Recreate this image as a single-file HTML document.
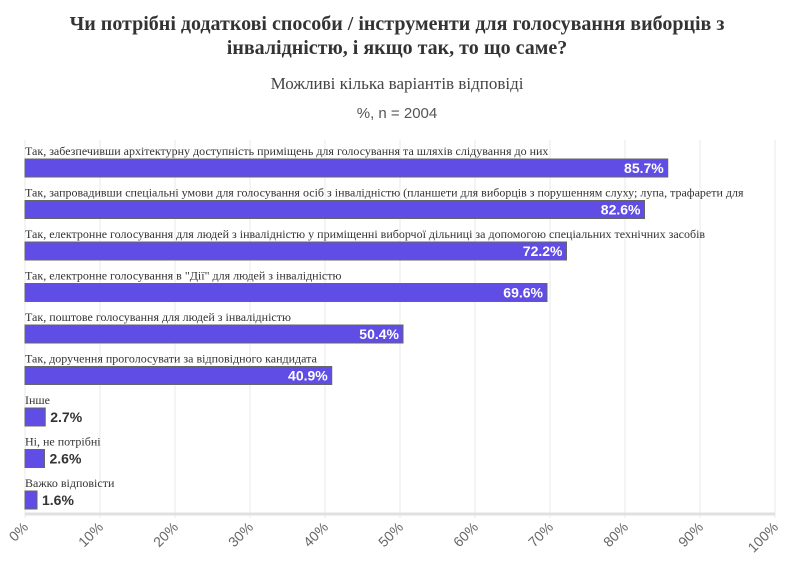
<!DOCTYPE html>
<html><head><meta charset="utf-8"><style>
body{margin:0;background:#fff;width:795px;height:575px;overflow:hidden}
svg text{font-family:"Liberation Serif",serif}
</style></head><body>
<svg width="795" height="575">
<text x="397" y="30" text-anchor="middle" font-size="20" font-weight="bold" fill="#333">Чи потрібні додаткові способи / інструменти для голосування виборців з</text>
<text x="397" y="54" text-anchor="middle" font-size="20" font-weight="bold" fill="#333">інвалідністю, і якщо так, то що саме?</text>
<text x="397" y="89" text-anchor="middle" font-size="17" fill="#444">Можливі кілька варіантів відповіді</text>
<text x="397" y="118" text-anchor="middle" font-size="15" fill="#555" style="font-family:'Liberation Sans',sans-serif">%, n = 2004</text>
<g id="grid"></g><g id="bars"></g><g id="ticks"></g>
</svg>
<script>
const categories=["Так, забезпечивши архітектурну доступність приміщень для голосування та шляхів слідування до них","Так, запровадивши спеціальні умови для голосування осіб з інвалідністю (планшети для виборців з порушенням слуху; лупа, трафарети для","Так, електронне голосування для людей з інвалідністю у приміщенні виборчої дільниці за допомогою спеціальних технічних засобів","Так, електронне голосування в \"Дії\" для людей з інвалідністю","Так, поштове голосування для людей з інвалідністю","Так, доручення проголосувати за відповідного кандидата","Інше","Ні, не потрібні","Важко відповісти"];
const values=[85.7,82.6,72.2,69.6,50.4,40.9,2.7,2.6,1.6];
const tickValues=[0,10,20,30,40,50,60,70,80,90,100];
const NS="http://www.w3.org/2000/svg";
const x=v=>25+v*7.5, y=i=>159+i*41.5;
const g=document.getElementById('grid'),b=document.getElementById('bars'),t=document.getElementById('ticks');
function mk(p,tag,a){const e=document.createElementNS(NS,tag);for(const k in a)e.setAttribute(k,a[k]);p.appendChild(e);return e;}
tickValues.forEach(v=>{
 const l=mk(g,'line',{x1:x(v),x2:x(v),y1:140,y2:518,stroke:'#e8e8e8','stroke-width':1});
 
 
 const tx=mk(t,'text',{x:x(v)+4,y:528,'text-anchor':'end','font-size':14,fill:'#666',transform:`rotate(-45 ${x(v)+4} 528)`,style:"font-family:'Liberation Sans',sans-serif"});
 tx.textContent=v+'%';
 
 
});
const ax=mk(g,'line',{x1:25,x2:775,y1:514,y2:514,stroke:'#e0e0e0','stroke-width':3});


categories.forEach((c,i)=>{
 const lb=mk(b,'text',{x:25,y:y(i)-4,'font-size':12,fill:'#333'});
 lb.textContent=c;
 
 
 const r=mk(b,'rect',{x:25,y:y(i),width:x(values[i])-25,height:18,fill:'#5f4de5',stroke:'#666','stroke-width':1});
 
 
 const inside=values[i]>20;
 const vt=mk(b,'text',{x:inside?x(values[i])-4:x(values[i])+5,y:y(i)+14,'text-anchor':inside?'end':'start','font-size':14,'font-weight':'bold',fill:inside?'#fff':'#333',style:"font-family:'Liberation Sans',sans-serif"});
 vt.textContent=values[i].toFixed(1)+'%';
 
 
});
</script>
</body></html>
